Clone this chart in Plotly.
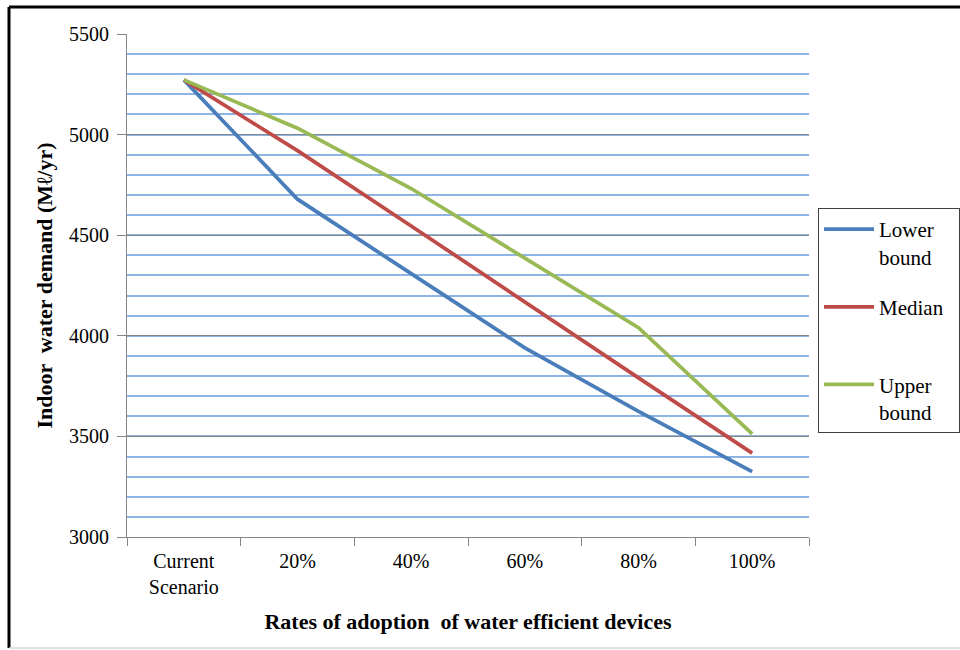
import plotly.graph_objects as go

# Adoption scenarios and indoor water demand (Ml/yr)
categories = ["Current<br>Scenario", "20%", "40%", "60%", "80%", "100%"]
lower_bound = [5272, 4679, 4309, 3940, 3624, 3325]
median = [5272, 4920, 4546, 4167, 3791, 3417]
upper_bound = [5272, 5032, 4732, 4384, 4040, 3513]

series = [
    ("Lower<br>bound", lower_bound, "#4A7EBB"),
    ("Median\u00a0\u00a0<br> ", median, "#BE4B48"),
    ("Upper<br>bound", upper_bound, "#98B954"),
]

y_ticks = [3000, 3500, 4000, 4500, 5000, 5500]

FONT = "'Liberation Serif', 'Times New Roman', Times, serif"

fig = go.Figure()
for i, (name, values, color) in enumerate(series):
    fig.add_trace(go.Scatter(
        x=categories, y=values, name=name, mode="lines",
        line=dict(color=color, width=3.75),
        legendgroup=str(i),
    ))

L, R, T, B = 127, 151, 34, 113
W, H = 960, 650
pw, ph = W - L - R, H - T - B


def px(xp):
    return (xp - L) / pw


def py(yp):
    return (H - B - yp) / ph


fig.update_layout(
    width=W, height=H,
    margin=dict(l=L, r=R, t=T, b=B, autoexpand=False),
    paper_bgcolor="white", plot_bgcolor="white",
    font=dict(family=FONT, size=20, color="#000000"),
    showlegend=True,
    legend=dict(
        x=px(818), y=py(208), xanchor="left", yanchor="top",
        bordercolor="#404040", borderwidth=1, bgcolor="white",
        font=dict(family=FONT, size=21),
        tracegroupgap=20, itemwidth=50, valign="top",
    ),
    xaxis=dict(
        showgrid=False, showline=True, linecolor="#868686", linewidth=1,
        ticks="outside", ticklen=8, tickcolor="#868686",
        tickson="boundaries",
        tickmode="array", tickvals=categories,
        ticklabelstandoff=6,
        tickfont=dict(family=FONT, size=20),
        range=[-0.5, 5.5],
        title=dict(text="<b>Rates of adoption  of water efficient devices</b>",
                   font=dict(family=FONT, size=22), standoff=16),
    ),
    yaxis=dict(
        range=[3000, 5500], tickvals=y_ticks,
        showgrid=True, gridcolor="#868686", gridwidth=1,
        minor=dict(dtick=100, showgrid=True, gridcolor="#8EB4E3", gridwidth=1.5),
        showline=True, linecolor="#868686", linewidth=1,
        ticks="outside", ticklen=9, tickcolor="#868686",
        ticklabelstandoff=4,
        tickfont=dict(family=FONT, size=20),
        title=dict(text="<b>Indoor  water demand (Mℓ/yr)</b>",
                   font=dict(family=FONT, size=22), standoff=10),
        zeroline=False,
    ),
    shapes=[
        dict(type="line", xref="paper", yref="paper",
             x0=px(9), x1=px(9), y0=py(7), y1=py(648),
             line=dict(color="black", width=3)),
        dict(type="line", xref="paper", yref="paper",
             x0=px(9), x1=px(960), y0=py(7), y1=py(7),
             line=dict(color="black", width=3)),
        dict(type="line", xref="paper", yref="paper",
             x0=px(9), x1=px(960), y0=py(648), y1=py(648),
             line=dict(color="#D9D9D9", width=1.5)),
    ],
)

fig.write_html("out.html")
